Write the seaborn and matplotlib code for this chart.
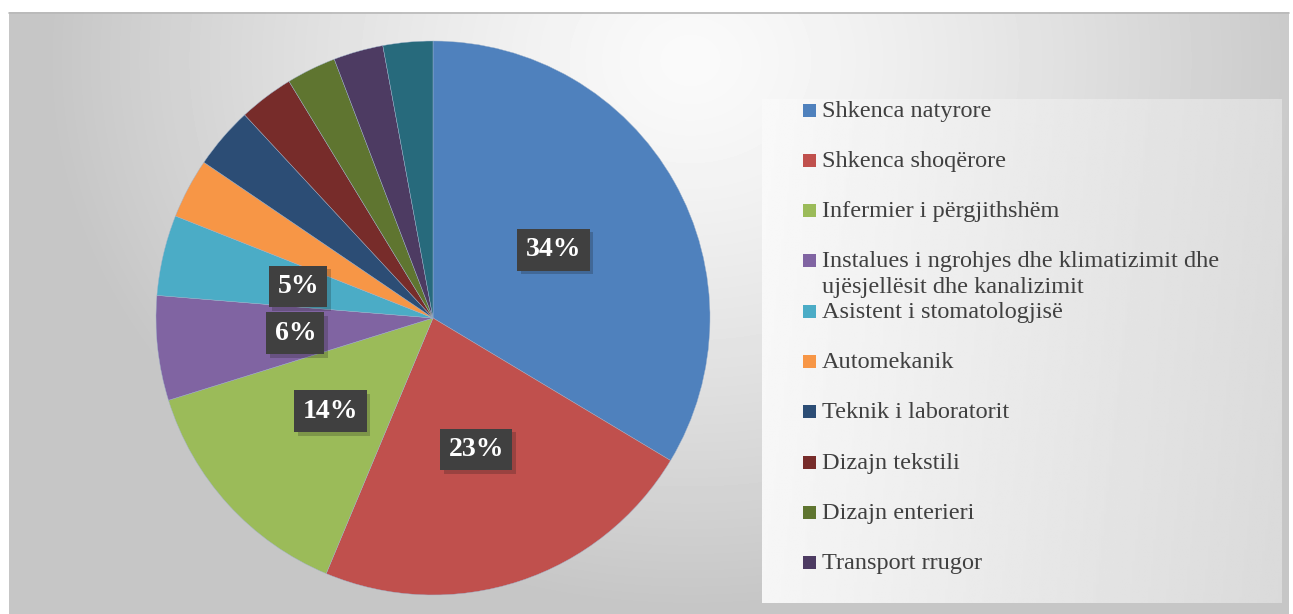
import matplotlib
matplotlib.use("Agg")
import matplotlib.pyplot as plt
import matplotlib.patheffects as pe
import numpy as np
import seaborn as sns

# shares, clockwise from 12 o'clock
categories = [
    "Shkenca natyrore",
    "Shkenca shoqërore",
    "Infermier i përgjithshëm",
    "Instalues i ngrohjes dhe klimatizimit dhe\nujësjellësit dhe kanalizimit",
    "Asistent i stomatologjisë",
    "Automekanik",
    "Teknik i laboratorit",
    "Dizajn tekstili",
    "Dizajn enterieri",
    "Transport rrugor",
    "",  # 11th entry is cut off in the legend of the original
]
shares = [33.6, 22.7, 13.9, 6.1, 4.7, 3.5, 3.6, 3.2, 2.9, 2.9, 2.9]
slice_colors = ["#4F81BD", "#C0504D", "#9BBB59", "#8064A2", "#4BACC6", "#F79646",
                "#2C4D75", "#772C2A", "#5F7530", "#4D3B62", "#276A7C"]

W, H = 1293, 614
sns.set_theme(style="white")
palette = sns.color_palette(slice_colors)
serif = ["Liberation Serif", "DejaVu Serif"]

fig = plt.figure(figsize=(W / 100, H / 100), dpi=100)
fig.patch.set_facecolor("white")

# background layer in pixel coordinates
bg = fig.add_axes([0, 0, 1, 1])
bg.set_xlim(0, W)
bg.set_ylim(H, 0)
bg.axis("off")

x0, x1, y0, y1 = 9, 1289, 12, 614
xx, yy = np.meshgrid(np.arange(x0, x1), np.arange(y0, y1))
d = np.hypot((xx - 690) / 1.0, (yy - 60) / 0.85)
shade = 250 - 52 * np.clip(d / 640, 0, 1) ** 1.3
bg.imshow(shade, cmap="gray", vmin=0, vmax=255, extent=[x0, x1, y1, y0],
          interpolation="bilinear", zorder=0)
bg.plot([x0, x1], [y0 + 0.5, y0 + 0.5], color="#b8b8b8", lw=1.2, zorder=1)

# legend panel
lx0, lx1, ly0, ly1 = 762, 1282, 99, 603
gx, gy = np.meshgrid(np.linspace(0, 1, 200), np.linspace(0, 1, 200))
panel = 249 - 28 * gx - 3 * gy
bg.imshow(panel, cmap="gray", vmin=0, vmax=255, extent=[lx0, lx1, ly1, ly0],
          interpolation="bilinear", zorder=1)

row0, step, line_gap = 110, 50.3, 26
for i, (name, col) in enumerate(zip(categories[:10], palette[:10])):
    yc = row0 + i * step
    bg.add_patch(plt.Rectangle((803, yc - 6.5), 13, 13, facecolor=col,
                               edgecolor="none", zorder=2))
    for k, line in enumerate(name.split("\n")):
        bg.text(822, yc + 6.5 + k * line_gap, line, fontsize=17.5, family=serif,
                color="#404040", va="baseline", ha="left", zorder=3)

# pie
cx, cy, r = 433, 318, 277
ax = fig.add_axes([(cx - r) / W, (H - cy - r) / H, 2 * r / W, 2 * r / H])
ax.set_facecolor("none")
wedges, texts, autotexts = ax.pie(
    shares,
    colors=palette,
    startangle=90,
    counterclock=False,
    radius=1,
    autopct=lambda p: f"{p:.0f}%" if p >= 4.5 else "",
    pctdistance=0.5,
    wedgeprops=dict(edgecolor="#9fb3cc", linewidth=0.3),
    textprops=dict(color="white", fontsize=20, fontweight="bold", family=serif),
)
ax.set_xlim(-1, 1)
ax.set_ylim(-1, 1)
ax.set_aspect("equal")

for t in autotexts:
    if t.get_text():
        t.set_bbox(dict(boxstyle="square,pad=0.3", facecolor="#404040", edgecolor="none"))
        t.get_bbox_patch().set_path_effects(
            [pe.SimplePatchShadow(offset=(2.5, -2.5), alpha=0.22), pe.Normal()])

fig.savefig("out.png", dpi=100)
